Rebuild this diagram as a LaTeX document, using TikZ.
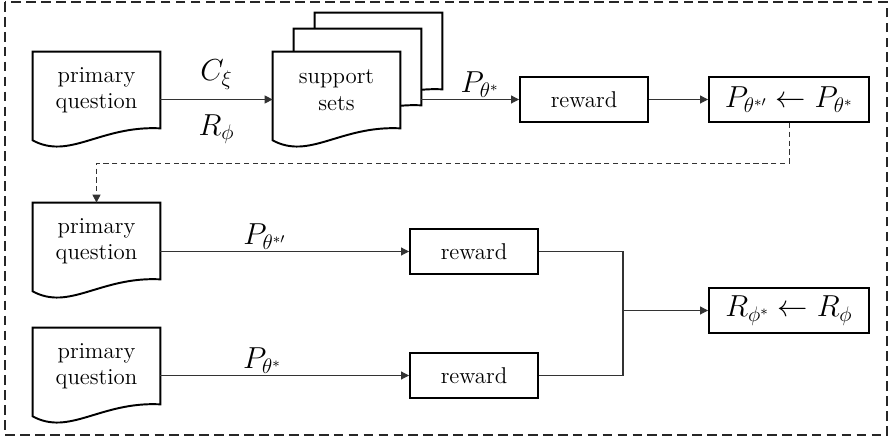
\documentclass[tikz,border=0pt]{standalone}
\usepackage{fontspec}
\usepackage{amsmath}
\usetikzlibrary{arrows.meta,backgrounds}
\tikzset{
  doc/.style={
    minimum width=2.54cm, minimum height=1.52cm, inner sep=0pt,
    align=center, font=\fontsize{13}{15}\selectfont
  },
  box/.style={
    draw, line width=1.1pt, fill=white, minimum height=0.9cm, inner sep=0pt,
    #1
  },
  lbl/.style={font=\fontsize{17}{19}\selectfont},
  conn/.style={draw=black!80, line width=0.6pt, -{Triangle[length=4.5pt,width=4.5pt]}},
  frame/.style={draw=black!85, line width=0.8pt, dash pattern=on 5.5pt off 3pt}
}
% document outline with the wavy lower edge
\newcommand{\docoutline}[1]{%
  \draw[line width=1.1pt, fill=white] (#1.north west) -- (#1.north east) -- (#1.south east)
    .. controls +(-1.2,0.06) and +(0.74,-0.4) .. ([yshift=-0.24cm]#1.south west) -- cycle;}

\begin{document}
\begin{tikzpicture}
        \useasboundingbox (0,0) rectangle (17.86,-8.76);
        \draw[frame] (0.1,-0.04) rectangle (17.74,-8.70);

        \begin{scope}[every node/.style={doc}]
            \node (q1) at (1.93,-1.80) {primary\\question};
            \node (s3) at (7.57,-1.02) {};
            \node (s2) at (7.15,-1.34) {};
            \node (s1) at (6.73,-1.80) {support\\sets};
            \node (q2) at (1.93,-4.82) {primary\\question};
            \node (q3) at (1.93,-7.32) {primary\\question};
        \end{scope}
        \begin{pgfonlayer}{background}
            \docoutline{q1}
            \docoutline{s3}
            \docoutline{s2}
            \docoutline{s1}
            \docoutline{q2}
            \docoutline{q3}
        \end{pgfonlayer}

        \begin{scope}[every node/.style={font=\fontsize{13}{15}\selectfont}]
            \node[box={minimum width=2.56cm}] (r1) at (11.68,-1.99) {reward};
            \node[box={minimum width=3.2cm}, lbl] (u1) at (15.78,-1.99) {$P_{\theta^{*\prime}} \leftarrow P_{\theta^*}$};
            \node[box={minimum width=2.56cm}] (r2) at (9.48,-5.03) {reward};
            \node[box={minimum width=2.56cm}] (r3) at (9.48,-7.51) {reward};
            \node[box={minimum width=3.2cm}, lbl] (u2) at (15.78,-6.21) {$R_{\phi^*} \leftarrow R_{\phi}$};
        \end{scope}
        \coordinate (j) at (12.46,-6.21);

        \begin{scope}[every node/.style={lbl}]
            \path[conn] (q1.east |- r1.west) -- (s1.west |- r1.west)
                node[midway, above=2pt] {$C_\xi$}
                node[midway, below=5pt] {$R_\phi$};
            \path[conn] (s2.east |- r1.west) -- (r1.west)
                node[pos=0.6, above=1pt, inner sep=0pt] {$P_{\theta^*}$};
            \path[conn] (r1) -- (u1);
            \path[conn] (q2.east |- r2.west) -- (r2.west)
                node[pos=0.42, above=1pt, inner sep=0pt] {$P_{\theta^{*\prime}}$};
            \path[conn] (q3.east |- r3.west) -- (r3.west)
                node[pos=0.41, above=1pt, inner sep=0pt] {$P_{\theta^*}$};
            \draw[draw=black!80, line width=0.6pt] (r2.east) -| (j) |- (r3.east);
            \path[conn] (j) -- (u2);
            \path[conn, densely dashed, line width=0.5pt] (u1.south) -- ++(0,-0.8) -| (q2.north);
        \end{scope}
\end{tikzpicture}
\end{document}
